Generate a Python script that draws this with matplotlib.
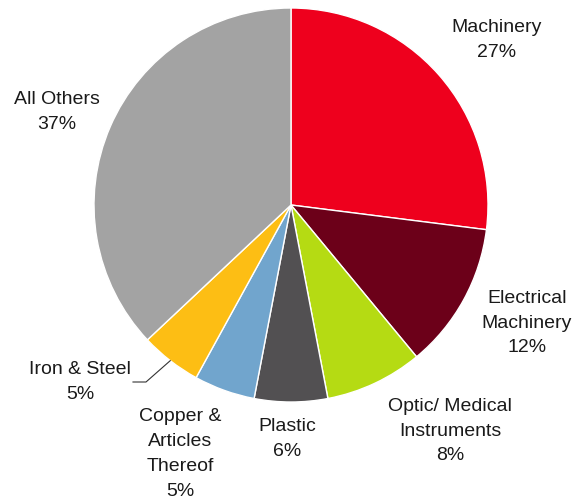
import matplotlib
matplotlib.use("Agg")
import matplotlib.pyplot as plt
import numpy as np

categories = ["Machinery", "Electrical\nMachinery", "Optic/ Medical\nInstruments", "Plastic",
              "Copper &\nArticles\nThereof", "Iron & Steel", "All Others"]
values = [27, 12, 8, 6, 5, 5, 37]
colors = ["#EE001D", "#6C0019", "#B5DB13", "#525052", "#71A5CD", "#FDBE14", "#A3A3A3"]

# label anchor positions in pixel coords (x, y from top)
label_pos = [(497, 40), (527, 323), (450, 431), (287, 439), (180, 454), (80, 382), (57, 112)]

W, H = 577, 503
plt.rcParams['font.family'] = ['Liberation Sans', 'DejaVu Sans']
fig = plt.figure(figsize=(W / 100, H / 100), dpi=100)
ax = fig.add_axes([0, 0, 1, 1])

cx, cy, r = 291, H - 205, 197
wedges, _ = ax.pie(values, colors=colors, startangle=90, counterclock=False,
                   center=(cx, cy), radius=r, frame=True,
                   wedgeprops=dict(edgecolor="white", linewidth=1.0))
ax.set_xlim(0, W)
ax.set_ylim(0, H)
ax.set_aspect("equal")
ax.axis("off")

for cat, v, (px, py) in zip(categories, values, label_pos):
    ax.text(px, H - py, f"{cat}\n{v}%", ha="center", va="center", fontsize=14,
            linespacing=1.6, color="#1a1a1a")

# leader line for Iron & Steel
w = wedges[5]
mid = np.deg2rad((w.theta1 + w.theta2) / 2)
ex, ey = cx + r * np.cos(mid), cy + r * np.sin(mid)
ax.plot([ex, 146, 133], [ey, H - 382, H - 382], color="#333333", lw=0.8)

fig.savefig("out.png", dpi=100, facecolor="white")
